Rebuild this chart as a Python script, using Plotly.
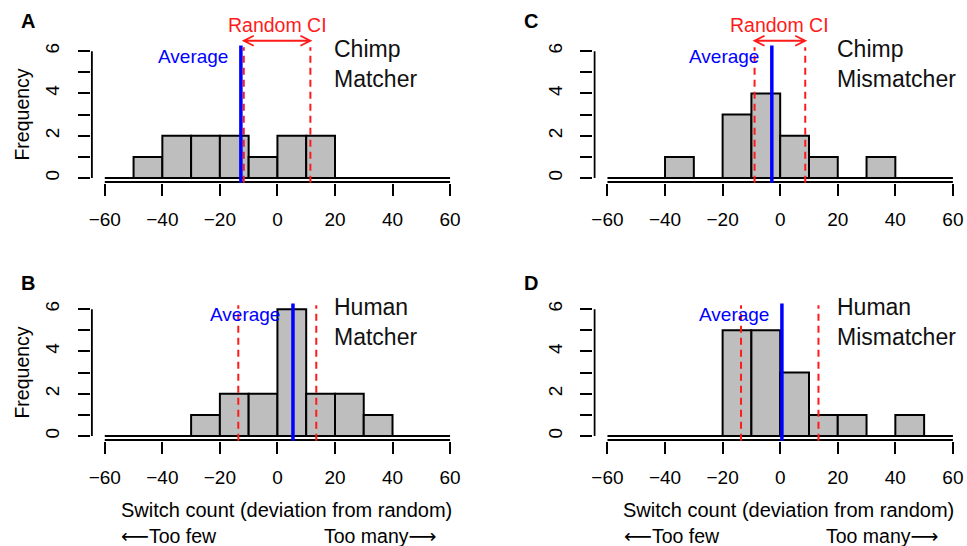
import plotly.graph_objects as go

# ---------------- data ----------------
bin_edges = [-60, -50, -40, -30, -20, -10, 0, 10, 20, 30, 40, 50, 60]
chimp_matcher = [0, 1, 2, 2, 2, 1, 2, 2, 0, 0, 0, 0]
human_matcher = [0, 0, 0, 1, 2, 2, 6, 2, 2, 1, 0, 0]
chimp_mismatcher = [0, 0, 1, 0, 3, 4, 2, 1, 0, 1, 0, 0]
human_mismatcher = [0, 0, 0, 0, 5, 5, 3, 1, 1, 0, 1, 0]

panel_letters = ["A", "B", "C", "D"]
group_labels = ["Chimp<br>Matcher", "Human<br>Matcher", "Chimp<br>Mismatcher", "Human<br>Mismatcher"]
averages = [-12.7, 5.4, -2.9, 0.6]
ci_low = [-11.7, -13.6, -8.9, -13.6]
ci_high = [11.45, 13.5, 8.7, 13.3]
show_ci_label = [True, False, True, False]
show_freq_label = [True, True, False, False]
show_x_title = [False, True, False, True]

x_tickvals = [-60, -40, -20, 0, 20, 40, 60]
y_tickvals = [0, 1, 2, 3, 4, 5, 6]
y_ticktext = ["0", "", "2", "", "4", "", "6"]

counts = [chimp_matcher, human_matcher, chimp_mismatcher, human_mismatcher]

# ---------------- layout geometry (page pixels) ----------------
W, H = 967, 546


def px(xp):
    return xp / W


def py(yp):
    return 1 - yp / H


X_RANGE = [-64.86, 64.86]
Y_RANGE = [-0.24, 7.6]
x_domains = [[px(89), px(463)], [px(89), px(463)],
             [px(592.7), min(1, px(966.9))], [px(592.7), min(1, px(966.9))]]
y_domains = [[py(183.1), py(17.3)], [py(441.1), py(275.3)],
             [py(183.1), py(17.3)], [py(441.1), py(275.3)]]
letter_pos = [(26, 21), (26, 283), (530, 21), (530, 283)]
PX_X = 374 / (X_RANGE[1] - X_RANGE[0])
PX_Y = 165.8 / (Y_RANGE[1] - Y_RANGE[0])

FONT = "Liberation Sans, Arial, Helvetica, DejaVu Sans, sans-serif"
RED = "#FF1A1A"
BLUE = "#0000FF"

fig = go.Figure()
shapes = []
annotations = []
layout_axes = {}

for i in range(4):
    sfx = "" if i == 0 else str(i + 1)
    xa, ya = "x" + sfx, "y" + sfx
    centers = [(bin_edges[k] + bin_edges[k + 1]) / 2 for k in range(len(counts[i])) if counts[i][k] > 0]
    vals = [c for c in counts[i] if c > 0]
    fig.add_trace(go.Bar(
        x=centers, y=vals, width=10, xaxis=xa, yaxis=ya,
        marker=dict(color="#BEBEBE", line=dict(color="black", width=2)),
        showlegend=False, hoverinfo="skip"))

    layout_axes["xaxis" + sfx] = dict(
        domain=x_domains[i], range=X_RANGE, anchor=ya, showgrid=False, zeroline=False,
        showline=False, tickmode="array", tickvals=x_tickvals, ticks="outside",
        ticklen=12, tickwidth=2, tickcolor="black", ticklabelstandoff=7,
        tickfont=dict(family=FONT, size=19, color="black"), fixedrange=True)
    layout_axes["yaxis" + sfx] = dict(
        domain=y_domains[i], range=Y_RANGE, anchor=xa, showgrid=False, zeroline=False,
        showline=False, tickmode="array", tickvals=y_tickvals, ticktext=y_ticktext,
        ticks="outside", ticklen=12, tickwidth=2, tickcolor="black", tickangle=-90,
        ticklabelstandoff=11,
        tickfont=dict(family=FONT, size=19, color="black"), fixedrange=True)

    # axis lines (R style: only across tick range)
    shapes.append(dict(type="line", xref=xa, yref=ya, x0=x_tickvals[0], x1=x_tickvals[-1],
                       y0=Y_RANGE[0] + 1 / PX_Y, y1=Y_RANGE[0] + 1 / PX_Y,
                       line=dict(color="black", width=2)))
    shapes.append(dict(type="line", xref=xa, yref=ya, x0=X_RANGE[0] + 1 / PX_X, x1=X_RANGE[0] + 1 / PX_X,
                       y0=y_tickvals[0], y1=y_tickvals[-1], line=dict(color="black", width=2)))
    # histogram baseline (zero-count bins)
    shapes.append(dict(type="line", xref=xa, yref=ya, x0=bin_edges[0], x1=bin_edges[-1],
                       y0=0, y1=0, line=dict(color="black", width=2)))
    # random CI dashed lines
    for xv in (ci_low[i], ci_high[i]):
        shapes.append(dict(type="line", xref=xa, yref=ya, x0=xv, x1=xv, y0=-0.22, y1=6.18,
                           line=dict(color=RED, width=2, dash="7px,5px")))
    # average line
    shapes.append(dict(type="line", xref=xa, yref=ya, x0=averages[i], x1=averages[i], y0=-0.22, y1=6.27,
                       line=dict(color=BLUE, width=3.5)))
    annotations.append(dict(xref=xa, yref=ya, x=averages[i], y=5.77, text="Average",
                            xanchor="right", yanchor="middle", xshift=-11, showarrow=False,
                            font=dict(family=FONT, size=19, color=BLUE)))
    if show_ci_label[i]:
        ya_arrow = 6.49
        hx = 10 / PX_X
        hy = 5 / PX_Y
        lo, hi = ci_low[i], ci_high[i]
        path = (f"M {lo},{ya_arrow} L {hi},{ya_arrow} "
                f"M {lo + hx},{ya_arrow + hy} L {lo},{ya_arrow} L {lo + hx},{ya_arrow - hy} "
                f"M {hi - hx},{ya_arrow + hy} L {hi},{ya_arrow} L {hi - hx},{ya_arrow - hy}")
        shapes.append(dict(type="path", xref=xa, yref=ya, path=path,
                           line=dict(color=RED, width=1.8)))
        annotations.append(dict(xref=xa, yref=ya, x=(lo + hi) / 2, y=7.23, text="Random CI",
                                xanchor="center", yanchor="middle", showarrow=False,
                                font=dict(family=FONT, size=19.5, color=RED)))
    annotations.append(dict(xref=xa, yref=ya, x=20, y=5.4, text=group_labels[i], align="left",
                            xanchor="left", yanchor="middle", xshift=-3, showarrow=False,
                            font=dict(family=FONT, size=23, color="#111111")))
    lx, ly = letter_pos[i]
    annotations.append(dict(xref="paper", yref="paper", x=px(lx), y=py(ly),
                            text="<b>" + panel_letters[i] + "</b>", xanchor="center",
                            yanchor="middle", showarrow=False,
                            font=dict(family=FONT, size=20, color="black")))
    if show_freq_label[i]:
        annotations.append(dict(xref="paper", yref=ya, x=px(20), y=3, text="Frequency",
                                textangle=-90, xanchor="center", yanchor="middle", showarrow=False,
                                font=dict(family=FONT, size=19.5, color="black")))
    if show_x_title[i]:
        annotations.append(dict(xref=xa, yref="paper", x=3, y=py(510),
                                text="Switch count (deviation from random)",
                                xanchor="center", yanchor="middle", showarrow=False,
                                font=dict(family=FONT, size=20, color="black")))
        annotations.append(dict(xref=xa, yref="paper", x=-55, y=py(536), text="⟵Too few",
                                xanchor="left", yanchor="middle", showarrow=False,
                                font=dict(family=FONT, size=19.5, color="black")))
        annotations.append(dict(xref=xa, yref="paper", x=56, y=py(536), text="Too many⟶",
                                xanchor="right", yanchor="middle", showarrow=False,
                                font=dict(family=FONT, size=19.5, color="black")))

fig.update_layout(
    width=W, height=H, margin=dict(l=0, r=0, t=0, b=0),
    paper_bgcolor="white", plot_bgcolor="white", showlegend=False,
    bargap=0, shapes=shapes, annotations=annotations, **layout_axes)

fig.write_html("out.html", config={"displayModeBar": False, "staticPlot": True},
               post_script="document.body.style.margin='0';document.body.style.overflow='hidden';")
